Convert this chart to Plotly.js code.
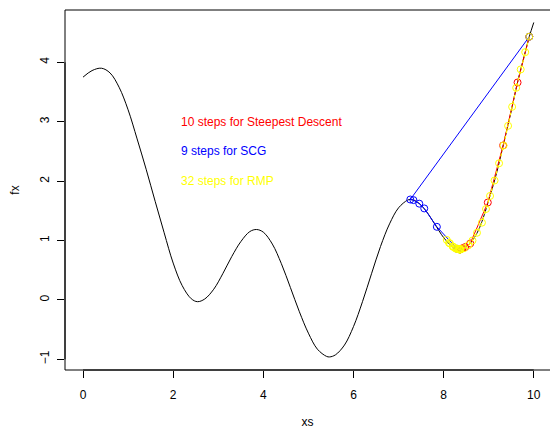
<!DOCTYPE html>
<html>
<head>
<meta charset="utf-8">
<script src="https://cdn.plot.ly/plotly-3.0.1.min.js"></script>
<style>
html,body{margin:0;padding:0;background:#fff;}
#plot{width:550px;height:432px;}
</style>
</head>
<body>
<div id="plot"></div>
<script>
// Black curve fx(xs)
var xs = [0, 0.2, 0.41, 0.6, 0.8, 1.0, 1.2, 1.4, 1.6, 1.8, 2.0, 2.2, 2.4, 2.54, 2.7, 2.9, 3.1, 3.3, 3.5, 3.7, 3.85, 4.0, 4.2, 4.4, 4.6, 4.8, 5.0, 5.2, 5.4, 5.47, 5.6, 5.8, 6.0, 6.2, 6.4, 6.6, 6.8, 7.0, 7.2, 7.26, 7.4, 7.6, 7.8, 8.0, 8.2, 8.3, 8.36, 8.5, 8.6, 8.7, 8.8, 8.9, 9.0, 9.1, 9.2, 9.3, 9.4, 9.5, 9.6, 9.7, 9.8, 9.9, 10.0];
var fx = [3.75, 3.86, 3.90, 3.82, 3.58, 3.20, 2.71, 2.20, 1.66, 1.13, 0.62, 0.24, 0.02, -0.03, 0.015, 0.18, 0.44, 0.73, 0.98, 1.15, 1.185, 1.14, 0.94, 0.61, 0.21, -0.20, -0.56, -0.83, -0.95, -0.96, -0.925, -0.76, -0.45, -0.03, 0.44, 0.90, 1.28, 1.55, 1.68, 1.69, 1.657, 1.507, 1.28, 1.05, 0.89, 0.857, 0.85, 0.90, 0.96, 1.07, 1.22, 1.43, 1.68, 1.93, 2.21, 2.53, 2.85, 3.18, 3.53, 3.85, 4.14, 4.43, 4.67];

// Steepest descent path (10 steps)
var sdX = [9.90, 9.64, 9.32, 8.98, 8.59, 8.48, 8.42, 8.39, 8.37, 8.36, 8.36];
var sdY = [4.43, 3.66, 2.60, 1.64, 0.95, 0.89, 0.87, 0.86, 0.85, 0.85, 0.85];

// SCG path (9 steps)
var scgX = [9.90, 7.26, 7.33, 7.46, 7.57, 7.85, 8.30, 8.35, 8.36, 8.36];
var scgY = [4.43, 1.69, 1.68, 1.62, 1.54, 1.23, 0.86, 0.85, 0.85, 0.85];

// RMP path (32 steps)
var rmpX = [9.90, 9.81, 9.71, 9.61, 9.52, 9.43, 9.33, 9.23, 9.13, 9.03, 8.94, 8.85, 8.74, 8.64, 8.55, 8.45, 8.36, 8.28, 8.20, 8.12, 8.07, 8.14, 8.22, 8.30, 8.38, 8.32, 8.26, 8.34, 8.36, 8.35, 8.36, 8.36, 8.36];
var rmpY = [4.43, 4.17, 3.88, 3.57, 3.25, 2.93, 2.60, 2.30, 2.01, 1.75, 1.53, 1.30, 1.13, 1.00, 0.92, 0.87, 0.85, 0.86, 0.90, 0.96, 1.01, 0.95, 0.89, 0.86, 0.85, 0.86, 0.87, 0.85, 0.85, 0.85, 0.85, 0.85, 0.85];

var labels = ["10 steps for Steepest Descent", "9 steps for SCG", "32 steps for RMP"];
var labelY = [3.0, 2.5, 2.0];
var labelColors = ["#FF0000", "#0000FF", "#FFFF00"];

var xTicks = [0, 2, 4, 6, 8, 10];
var yTicks = [-1, 0, 1, 2, 3, 4];

var mk = function(c){ return {symbol:'circle-open', size:7, color:c, line:{width:1, color:c}}; };

var traces = [
  {x: xs, y: fx, mode:'lines', line:{color:'#000', width:1, shape:'spline', smoothing:1}, hoverinfo:'skip'},
  {x: sdX, y: sdY, mode:'lines+markers', line:{color:'#FF0000', width:1}, marker: mk('#FF0000')},
  {x: scgX, y: scgY, mode:'lines+markers', line:{color:'#0000FF', width:1}, marker: mk('#0000FF')},
  {x: rmpX, y: rmpY, mode:'lines+markers', line:{color:'#FFFF00', width:1.2, dash:'3px,3px'}, marker: mk('#FFFF00')}
];

var annotations = labels.map(function(t, i){
  return {x: 2.12, y: labelY[i], xref:'x', yref:'y', text: t, showarrow:false, xanchor:'left', yanchor:'middle',
          font:{family:'Liberation Sans, Arial, sans-serif', size:12, color: labelColors[i]}};
});

var layout = {
  width: 550, height: 432,
  margin: {l:65, r:0, t:10, b:62},
  paper_bgcolor:'#fff', plot_bgcolor:'#fff',
  showlegend:false,
  font:{family:'Liberation Sans, Arial, sans-serif', size:12, color:'#000'},
  xaxis:{range:[-0.4, 10.36], tickvals:xTicks, ticktext:xTicks.map(String), ticks:'outside', ticklen:7, tickcolor:'#000',
         ticklabelstandoff:7,
         showgrid:false, zeroline:false, showline:false, title:{text:'xs', standoff:16, font:{size:12}}, tickfont:{size:12}},
  yaxis:{range:[-1.18, 4.88], tickvals:yTicks, ticktext:yTicks.map(function(v){return v<0?'\u2212'+Math.abs(v):String(v);}), ticks:'outside', ticklen:7, tickcolor:'#000',
         ticklabelstandoff:3,
         tickangle:-90, showgrid:false, zeroline:false, showline:false, title:{text:'fx', standoff:16, font:{size:12}}, tickfont:{size:12}},
  annotations: annotations,
  shapes:[
    {type:'rect', xref:'paper', yref:'paper', x0:0, x1:1.01, y0:0, y1:1, line:{color:'#000', width:1}},
    {type:'line', xref:'x', yref:'paper', x0:0, x1:10, y0:0, y1:0, line:{color:'#000', width:1}},
    {type:'line', xref:'paper', yref:'y', x0:0, x1:0, y0:-1, y1:4, line:{color:'#000', width:1}}
  ]
};

Plotly.newPlot('plot', traces, layout, {staticPlot:true, displayModeBar:false});
</script>
</body>
</html>
